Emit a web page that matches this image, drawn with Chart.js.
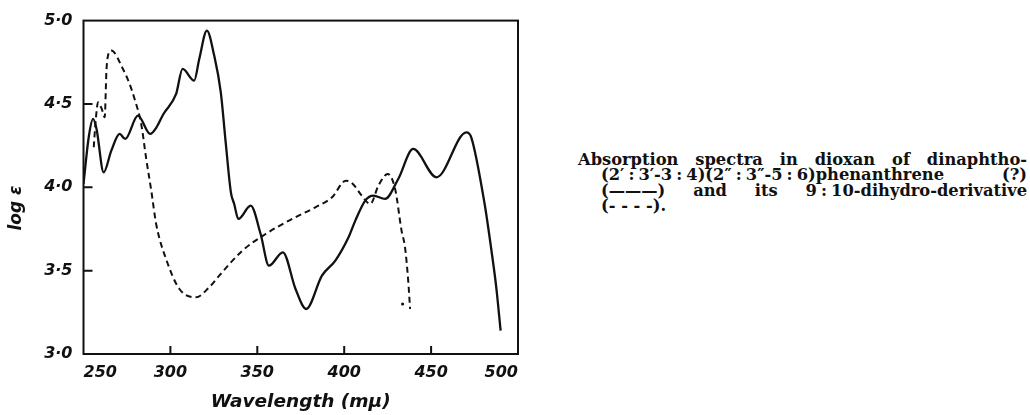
<!DOCTYPE html>
<html>
<head>
<meta charset="utf-8">
<script src="https://cdn.jsdelivr.net/npm/chart.js@4"></script>
<style>
  html, body { margin: 0; padding: 0; background: #fff; }
  #wrap { position: relative; width: 1030px; height: 415px; }
  #plot { position: absolute; left: 0; top: 0; }
  #caption {
    position: absolute; left: 578px; top: 152px; width: 449px;
    font-family: "DejaVu Serif", serif; font-weight: bold; font-size: 16.3px;
    line-height: 15.3px; color: #111;
  }
  #caption div { text-align: justify; text-align-last: justify; white-space: nowrap; }
  #caption .ind { padding-left: 23px; }
  #caption .last { text-align-last: left; }
</style>
</head>
<body>
<div id="wrap">
  <canvas id="plot" width="540" height="415"></canvas>
  <div id="caption">
    <div>Absorption spectra in dioxan of dinaphtho-</div>
    <div class="ind">(2′&#8197;:&#8197;3′-3&#8197;:&#8197;4)(2″&#8197;:&#8197;3″-5&#8197;:&#8197;6)phenanthrene (?)</div>
    <div class="ind">(———) and its 9&#8197;:&#8197;10-dihydro-derivative</div>
    <div class="ind last">(- - - -).</div>
  </div>
</div>
<script>
// wavelength (mμ) and log ε
let solidWl  = [250, 253, 255.5, 257.5, 261.6, 266, 270.8, 274, 281.3, 288.4, 292, 296, 303.3, 307, 313.7, 316.6, 321, 325.2, 329, 331.9, 334.8, 336.7, 339.1, 346.2, 351.9, 356.7, 364.7, 372, 378.1, 387.2, 394.9, 402.5, 406.4, 412.1, 416.8, 423.5, 431.1, 439.7, 453.1, 470.3, 473.1, 480.8, 484.6, 487.5, 490];
let solidLog = [4.02, 4.30, 4.41, 4.35, 4.09, 4.22, 4.32, 4.29, 4.43, 4.32, 4.36, 4.44, 4.56, 4.71, 4.64, 4.77, 4.94, 4.79, 4.57, 4.26, 3.97, 3.90, 3.81, 3.89, 3.72, 3.53, 3.61, 3.39, 3.27, 3.47, 3.56, 3.70, 3.80, 3.92, 3.95, 3.93, 4.05, 4.23, 4.06, 4.33, 4.30, 3.90, 3.63, 3.40, 3.14];

let dashWl  = [255.9, 257, 258.4, 260.5, 262.2, 263.2, 264.1, 266, 272.7, 276.5, 279.4, 283.2, 286.1, 289, 291.8, 297.5, 305.2, 314.7, 322.3, 328.1, 341.4, 354.8, 370, 383.4, 393, 401, 405, 410.1, 415, 419.7, 425, 429.3, 433, 435, 436.9, 437.9];
let dashLog = [4.24, 4.40, 4.51, 4.47, 4.42, 4.70, 4.79, 4.82, 4.71, 4.62, 4.53, 4.38, 4.17, 3.98, 3.78, 3.57, 3.39, 3.34, 3.40, 3.47, 3.62, 3.72, 3.81, 3.88, 3.94, 4.04, 4.02, 3.95, 3.90, 4.01, 4.08, 3.99, 3.74, 3.64, 3.43, 3.27];

// stray dot near the end of the dashed curve
let dotWl  = [433.6];
let dotLog = [3.30];

let xTicks = [250, 300, 350, 400, 450, 500];
let yTicks = [3.0, 3.5, 4.0, 4.5, 5.0];

function pts(xs, ys) { return xs.map((x, i) => ({x: x, y: ys[i]})); }

const axisFont = {family: 'DejaVu Sans', size: 16, style: 'italic', weight: 'bold'};

const frame = {
  id: 'frame',
  beforeDraw(chart) {
    const c = chart.ctx;
    c.save();
    c.fillStyle = '#fff';
    c.fillRect(0, 0, chart.width, chart.height);
    c.restore();
  },
  afterDraw(chart) {
    const c = chart.ctx, a = chart.chartArea;
    const xs = chart.scales.x, ys = chart.scales.y;
    c.save();
    c.strokeStyle = '#111';
    c.lineWidth = 2;
    c.strokeRect(a.left, a.top, a.right - a.left, a.bottom - a.top);
    c.beginPath();
    xTicks.slice(1, -1).forEach(v => {
      const px = xs.getPixelForValue(v);
      c.moveTo(px, a.bottom); c.lineTo(px, a.bottom - 8);
    });
    yTicks.slice(1, -1).forEach(v => {
      const py = ys.getPixelForValue(v);
      c.moveTo(a.left, py); c.lineTo(a.left + 9, py);
    });
    c.stroke();
    // y axis title
    c.translate(17, 208);
    c.rotate(-Math.PI / 2);
    c.fillStyle = '#111';
    c.font = 'italic bold 17px "DejaVu Sans"';
    c.textAlign = 'center';
    c.textBaseline = 'middle';
    c.fillText('log ε', 0, 0);
    c.restore();
  }
};

new Chart(document.getElementById('plot'), {
  type: 'line',
  data: {
    datasets: [{
      label: 'dinaphthophenanthrene',
      data: pts(solidWl, solidLog),
      borderColor: '#111',
      borderWidth: 2.3,
      pointRadius: 0,
      cubicInterpolationMode: 'monotone'
    }, {
      label: '9:10-dihydro-derivative',
      data: pts(dashWl, dashLog),
      borderColor: '#111',
      borderWidth: 2,
      borderDash: [6, 4],
      pointRadius: 0,
      cubicInterpolationMode: 'monotone'
    }, {
      label: 'dot',
      data: pts(dotWl, dotLog),
      showLine: false,
      pointRadius: 1.6,
      pointBackgroundColor: '#111',
      pointBorderWidth: 0
    }]
  },
  options: {
    responsive: false,
    animation: false,
    layout: {padding: {left: 0, top: 10, right: 22, bottom: 0}},
    plugins: {legend: {display: false}, tooltip: {enabled: false}},
    scales: {
      x: {
        type: 'linear', min: 250, max: 500,
        grid: {display: false, drawTicks: false},
        border: {display: false},
        afterFit: s => { s.height = 61; },
        afterBuildTicks: s => { s.ticks = xTicks.map(v => ({value: v})); },
        ticks: {color: '#111', font: axisFont, padding: 9, align: 'inner', maxRotation: 0},
        title: {display: true, text: 'Wavelength (mμ)', color: '#111', font: {family: 'DejaVu Sans', size: 18.5, style: 'italic', weight: 'bold'}, padding: {top: 0, bottom: 2}}
      },
      y: {
        min: 3, max: 5,
        grid: {display: false, drawTicks: false},
        border: {display: false},
        afterFit: s => { s.width = 83.5; },
        afterBuildTicks: s => { s.ticks = yTicks.map(v => ({value: v})); },
        ticks: {color: '#111', font: axisFont, padding: 11, callback: v => v.toFixed(1).replace('.', '·')}
      }
    }
  },
  plugins: [frame]
});
</script>
</body>
</html>
